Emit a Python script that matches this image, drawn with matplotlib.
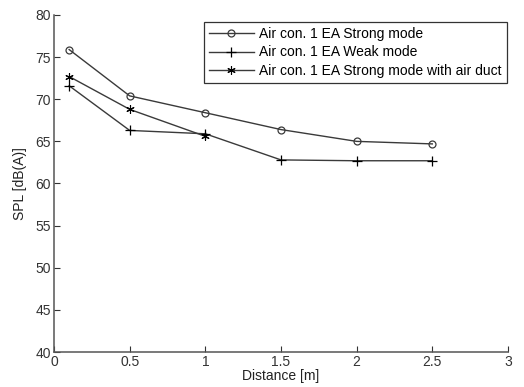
import matplotlib
matplotlib.use("Agg")
import matplotlib.pyplot as plt

plt.rcParams["font.family"] = ["Liberation Sans", "DejaVu Sans"]

x_all = [0.1, 0.5, 1.0, 1.5, 2.0, 2.5]
strong = [75.9, 70.4, 68.4, 66.4, 65.0, 64.7]
weak = [71.6, 66.3, 65.9, 62.8, 62.7, 62.7]
x_duct = [0.1, 0.5, 1.0]
duct = [72.7, 68.8, 65.6]
labels = ["Air con. 1 EA Strong mode", "Air con. 1 EA Weak mode",
          "Air con. 1 EA Strong mode with air duct"]

fig = plt.figure(figsize=(5.24, 3.87), dpi=100)
ax = fig.add_axes([54 / 524, 1 - 352 / 387, (508 - 54) / 524, (352 - 15) / 387])

col = "#3a3a3a"
ax.plot(x_all, strong, color=col, lw=1, marker="o", ms=5, mfc="none", mec=col, mew=0.9, label=labels[0])
ax.plot(x_all, weak, color=col, lw=1, marker="+", ms=6.5, mec="black", mew=0.9, label=labels[1])
ax.plot(x_duct, duct, color=col, lw=1, marker=(6, 2, 0), ms=6, mec="black", mew=0.8, label=labels[2])

ax.set_xlim(0, 3)
ax.set_ylim(40, 80)
ax.set_xticks([0, 0.5, 1, 1.5, 2, 2.5, 3])
ax.set_xticklabels(["0", "0.5", "1", "1.5", "2", "2.5", "3"])
ax.set_yticks(range(40, 81, 5))
ax.tick_params(direction="in", length=4, labelsize=10, colors="#333333", pad=2)
for s in ["top", "right"]:
    ax.spines[s].set_visible(False)
for s in ["left", "bottom"]:
    ax.spines[s].set_color("#555555")
    ax.spines[s].set_linewidth(1.1)

ax.set_xlabel("Distance [m]", fontsize=10, color="#222222", labelpad=0)
ax.set_ylabel("SPL [dB(A)]", fontsize=10, color="#222222", labelpad=6)

leg = ax.legend(loc="upper right", bbox_to_anchor=(0.997, 0.98), fontsize=10, frameon=True,
                fancybox=False, borderpad=0.35, labelspacing=0.35, handlelength=3.3,
                handletextpad=0.35, borderaxespad=0.0)
leg.get_frame().set_edgecolor("black")
leg.get_frame().set_linewidth(0.9)

fig.savefig("out.png", dpi=100)
